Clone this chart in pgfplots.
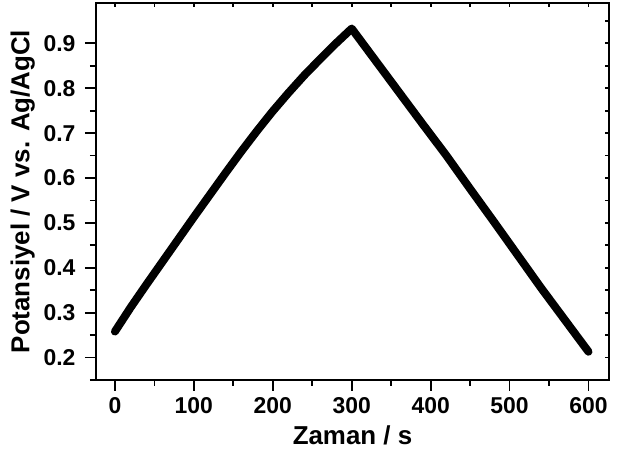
\documentclass[border=0pt]{standalone}
\usepackage{pgfplots}
\pgfplotsset{compat=1.18}
\usepackage{fontspec}
\setmainfont{Liberation Sans}

% galvanostatic charge / discharge curve
\pgfplotstableread{
t E
0 0.258
20 0.312
40 0.363
60 0.413
80 0.463
100 0.513
120 0.562
140 0.611
160 0.659
180 0.705
200 0.749
220 0.790
240 0.829
260 0.865
280 0.900
300 0.933
330 0.862
360 0.791
390 0.720
420 0.650
450 0.576
480 0.503
510 0.429
540 0.355
570 0.284
600 0.213
}\gcd

\begin{document}
\begin{tikzpicture}[x=1bp,y=1bp]
\pgfplotsset{
  common/.style={
    at={(0,0)}, anchor=south west,
    scale only axis, width=513bp, height=377bp,
    xmin=-24, xmax=626, ymin=0.15, ymax=0.99,
    axis line style={line width=2bp},
    every tick/.style={line width=1.8bp, black},
  }
}
% mirror ticks on top and right, pointing inwards
\begin{axis}[common,
  xtick={0,50,...,600}, ytick={0.15,0.2,...,0.99},
  xticklabels={}, yticklabels={},
  xtick pos=right, ytick pos=right, tick align=inside,
  major tick length=4bp,
]
\end{axis}
\begin{axis}[common,
  xtick={0,100,...,600}, ytick={0.2,0.3,...,0.9},
  minor x tick num=1, minor y tick num=1,
  extra y ticks={0.15}, extra y tick labels={},
  extra y tick style={major tick length=6bp},
  xtick pos=left, ytick pos=left, tick align=outside,
  major tick length=11bp, minor tick length=6bp,
  ticklabel style={font=\fontsize{23}{23}\selectfont\bfseries},
  /pgf/number format/assume math mode=true,
  yticklabel style={xshift=-6bp, /pgf/number format/.cd, fixed, fixed zerofill, precision=1},
  xticklabel style={yshift=-3bp},
  xlabel={Zaman / s}, ylabel={Potansiyel / V vs. Ag/AgCl},
  label style={font=\fontsize{26}{26}\selectfont\bfseries},
  xlabel style={yshift=-5bp},
  ylabel style={yshift=-15bp},
]
\addplot[black, line width=8bp, line cap=round, line join=round] table[x=t, y=E] {\gcd};
\end{axis}
\pgfresetboundingbox
\path (-96,-72) rectangle (524,380);
\end{tikzpicture}
\end{document}
